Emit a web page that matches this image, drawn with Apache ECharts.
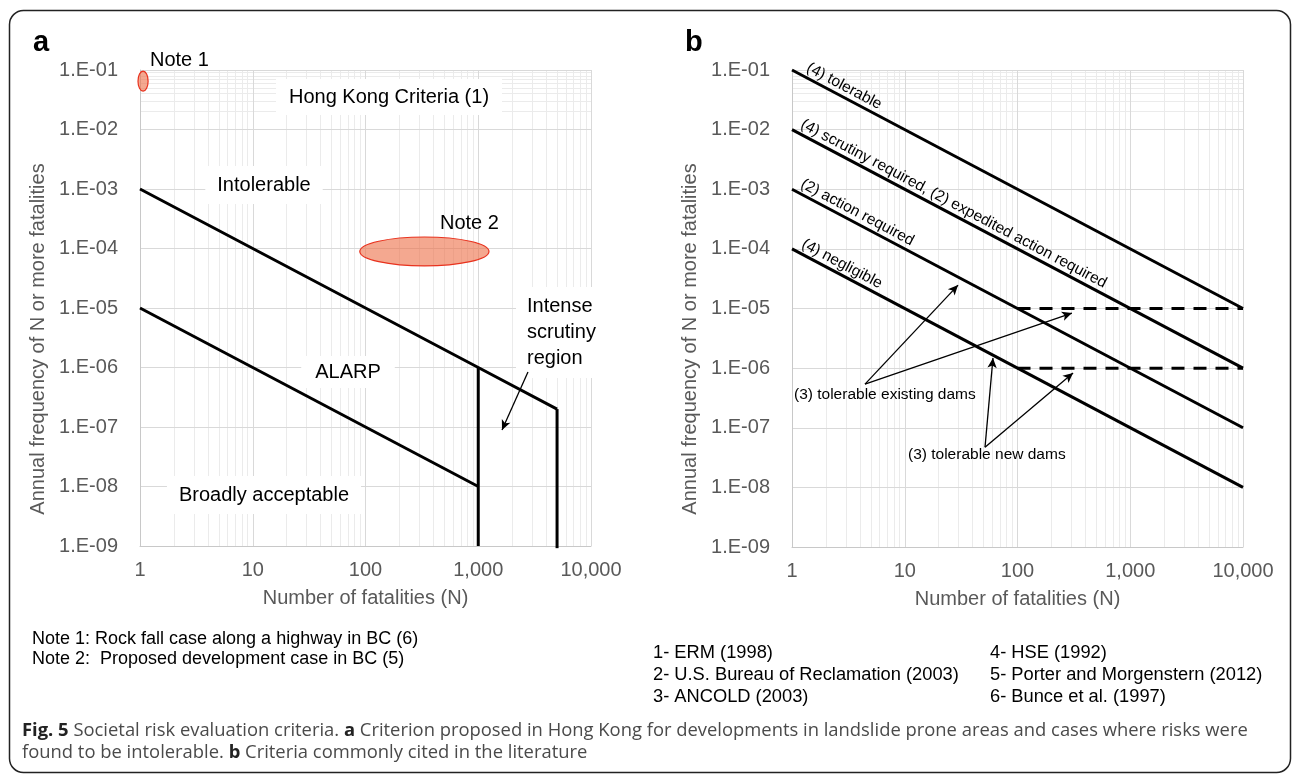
<!DOCTYPE html>
<html>
<head>
<meta charset="utf-8">
<script src="https://cdn.jsdelivr.net/npm/echarts@6/dist/echarts.min.js"></script>
<style>
  html, body { margin: 0; padding: 0; background: #fff; }
  #main { width: 1292px; height: 776px; }
</style>
</head>
<body>
<div id="main"></div>
<script>
// panel a - Hong Kong criteria
const aUpperN = [1, 1000, 5000];
const aUpperF = [1e-3, 1e-6, 2e-7];
const aLowerN = [1, 1000];
const aLowerF = [1e-5, 1e-8];
const aCut1000N = [1000, 1000];
const aCut1000F = [1e-6, 1e-9];
const aCut5000N = [5000, 5000];
const aCut5000F = [2e-7, 9.2e-10];
const note1N = [0.96, 1.18];
const note1F = [0.044, 0.096];
const note2N = [89, 1245];
const note2F = [5.1e-5, 1.56e-4];
const aArrow = [[2760, 8.4e-7], [1625, 8.9e-8]];

// panel b - criteria from the literature
const bN = [1, 10000];
const bTolerableF = [1e-1, 1e-5];
const bScrutinyF = [1e-2, 1e-6];
const bActionF = [1e-3, 1e-7];
const bNegligibleF = [1e-4, 1e-8];
const bDamsN = [100, 10000];
const bExistingDamsF = [1e-5, 1e-5];
const bNewDamsF = [1e-6, 1e-6];
const bExistingFrom = [4.44, 5.4e-7];
const bExistingTo = [[29.7, 2.47e-5], [304, 8.4e-6]];
const bNewFrom = [51.5, 4.7e-8];
const bNewTo = [[60.6, 1.48e-6], [311, 8.3e-7]];

const xTickLabels = ['1', '10', '100', '1,000', '10,000'];
const yTickLabels = ['1.E-09', '1.E-08', '1.E-07', '1.E-06', '1.E-05', '1.E-04', '1.E-03', '1.E-02', '1.E-01'];

const FONT = "'Liberation Sans', Arial, sans-serif";
const CAPTION_FONT = "'Open Sans', sans-serif";
const GREY = '#595959';

const pair = (xs, ys) => xs.map((x, i) => [x, ys[i]]);

// minor grid positions (2..9 in each decade)
const minorX = [];
for (let k = 0; k < 4; k++) for (let m = 2; m <= 9; m++) minorX.push({ xAxis: m * Math.pow(10, k) });
const minorY = [];
for (let k = -9; k < -1; k++) for (let m = 2; m <= 9; m++) minorY.push({ yAxis: m * Math.pow(10, k) });

function xAxisOpt(gridIndex) {
  return {
    type: 'log', logBase: 10, gridIndex: gridIndex, min: 1, max: 10000, splitNumber: 4, z: 1,
    name: 'Number of fatalities (N)', nameLocation: 'middle', nameGap: 42,
    nameTextStyle: { fontSize: 20, color: GREY, fontFamily: FONT },
    axisLine: { show: true, lineStyle: { color: '#c8c8c8', width: 1 } },
    axisTick: { show: false },
    axisLabel: {
      fontSize: 20, color: GREY, fontFamily: FONT, margin: 14,
      formatter: v => xTickLabels[Math.round(Math.log10(v))]
    },
    splitLine: { show: true, lineStyle: { color: '#d9d9d9', width: 1 } }
  };
}
function yAxisOpt(gridIndex) {
  return {
    type: 'log', logBase: 10, gridIndex: gridIndex, min: 1e-9, max: 1e-1, splitNumber: 8, z: 1,
    axisLine: { show: true, lineStyle: { color: '#c8c8c8', width: 1 } },
    axisTick: { show: false },
    axisLabel: {
      fontSize: 20, color: GREY, fontFamily: FONT, margin: 22,
      formatter: v => yTickLabels[Math.round(Math.log10(v)) + 9]
    },
    splitLine: { show: true, lineStyle: { color: '#d9d9d9', width: 1 } }
  };
}

function minorGrid(idx) {
  return {
    type: 'line', xAxisIndex: idx, yAxisIndex: idx, z: 0, silent: true,
    data: [[1, 1e-9]], symbol: 'none', lineStyle: { opacity: 0 },
    markLine: {
      silent: true, symbol: ['none', 'none'], animation: false, z: 0,
      label: { show: false },
      lineStyle: { color: '#ebebeb', width: 1, type: 'solid' },
      data: minorX.concat(minorY)
    }
  };
}

function solid(idx, xs, ys) {
  return {
    type: 'line', xAxisIndex: idx, yAxisIndex: idx, z: 3, silent: true, clip: false,
    data: pair(xs, ys), symbol: 'none',
    lineStyle: { color: '#000', width: 3 }
  };
}
function dashed(idx, xs, ys) {
  return {
    type: 'line', xAxisIndex: idx, yAxisIndex: idx, z: 3, silent: true, clip: false,
    data: pair(xs, ys), symbol: 'none',
    lineStyle: { color: '#000', width: 3, type: [13, 9] }
  };
}
function arrows(idx, segs) {
  return {
    type: 'line', xAxisIndex: idx, yAxisIndex: idx, z: 4, silent: true,
    data: [], symbol: 'none',
    markLine: {
      silent: true, animation: false, z: 4,
      symbol: ['none', 'arrow'], symbolSize: [7, 10],
      label: { show: false },
      lineStyle: { color: '#000', width: 1.3, type: 'solid' },
      data: segs.map(s => [{ coord: s[0] }, { coord: s[1] }])
    }
  };
}

const chart = echarts.init(document.getElementById('main'));

chart.setOption({
  animation: false,
  backgroundColor: '#fff',
  grid: [
    { left: 140, top: 70, width: 451, height: 476, outerBoundsMode: 'none' },
    { left: 792, top: 70, width: 451, height: 477, outerBoundsMode: 'none' }
  ],
  xAxis: [xAxisOpt(0), xAxisOpt(1)],
  yAxis: [yAxisOpt(0), yAxisOpt(1)],
  series: [
    minorGrid(0),
    minorGrid(1),
    solid(0, aUpperN, aUpperF),
    solid(0, aLowerN, aLowerF),
    solid(0, aCut1000N, aCut1000F),
    solid(0, aCut5000N, aCut5000F),
    {
      type: 'custom', xAxisIndex: 0, yAxisIndex: 0, z: 3, silent: true, clip: false,
      encode: { x: [0, 1], y: [2, 3] },
      data: [
        [note1N[0], note1N[1], note1F[0], note1F[1]],
        [note2N[0], note2N[1], note2F[0], note2F[1]]
      ],
      renderItem: (params, api) => {
        const p1 = api.coord([api.value(0), api.value(2)]);
        const p2 = api.coord([api.value(1), api.value(3)]);
        return {
          type: 'ellipse',
          shape: {
            cx: (p1[0] + p2[0]) / 2, cy: (p1[1] + p2[1]) / 2,
            rx: Math.abs(p2[0] - p1[0]) / 2, ry: Math.abs(p2[1] - p1[1]) / 2
          },
          style: { fill: 'rgba(236,110,70,0.6)', stroke: '#e8321e', lineWidth: 1.2 }
        };
      }
    },
    arrows(0, [aArrow]),
    solid(1, bN, bTolerableF),
    solid(1, bN, bScrutinyF),
    solid(1, bN, bActionF),
    solid(1, bN, bNegligibleF),
    dashed(1, bDamsN, bExistingDamsF),
    dashed(1, bDamsN, bNewDamsF),
    arrows(1, [[bExistingFrom, bExistingTo[0]], [bExistingFrom, bExistingTo[1]],
               [bNewFrom, bNewTo[0]], [bNewFrom, bNewTo[1]]])
  ]
});

// ---- annotations
function txt(text, x, y, opt) {
  opt = opt || {};
  return {
    type: 'text', x: x, y: y, z: opt.z || 2, silent: true, rotation: opt.rotation || 0,
    style: Object.assign({
      text: text, x: 0, y: 0,
      fontSize: 20, fontFamily: FONT, fill: '#000',
      align: 'center', verticalAlign: 'middle'
    }, opt.style || {})
  };
}
function boxed(text, x, y, pad) {
  return txt(text, x, y, { style: { backgroundColor: '#fff', padding: pad } });
}
function note(text, x, y, size) {
  return txt(text, x, y, { style: { fontSize: size, align: 'left' } });
}
function caption(text, y) {
  return txt(text, 22, y, {
    style: {
      fontSize: 18.4, fontFamily: CAPTION_FONT, fill: '#4a4a4a', align: 'left',
      rich: { b: { fontWeight: 'bold', fill: '#222', fontSize: 18.4, fontFamily: CAPTION_FONT } }
    }
  });
}

// labels running along the panel b lines
const lineLabels = [
  ['(4) tolerable', bTolerableF, 1.25],
  ['(4) scrutiny required, (2) expedited action required', bScrutinyF, 1.11],
  ['(2) action required', bActionF, 1.11],
  ['(4) negligible', bNegligibleF, 1.13]
];
const graphics = [];
lineLabels.forEach(([label, f, n0]) => {
  const p0 = chart.convertToPixel({ gridIndex: 1 }, [bN[0], f[0]]);
  const p1 = chart.convertToPixel({ gridIndex: 1 }, [bN[1], f[1]]);
  const dx = p1[0] - p0[0], dy = p1[1] - p0[1];
  const len = Math.hypot(dx, dy);
  const p = chart.convertToPixel({ gridIndex: 1 }, [n0, f[0] / n0]);
  const off = 2;
  graphics.push(txt(label, p[0] + off * dy / len, p[1] - off * dx / len, {
    rotation: Math.atan2(-dy, dx),
    style: { fontSize: 15.5, align: 'left', verticalAlign: 'bottom' }
  }));
});

graphics.push(
  txt('a', 33, 43, { style: { fontSize: 29, fontWeight: 'bold', align: 'left' } }),
  txt('b', 685, 43, { style: { fontSize: 29, fontWeight: 'bold', align: 'left' } }),
  txt('Annual frequency of N or more fatalities', 38, 339,
      { rotation: Math.PI / 2, style: { fill: GREY } }),
  txt('Annual frequency of N or more fatalities', 690, 339,
      { rotation: Math.PI / 2, style: { fill: GREY } }),
  txt('Note 1', 150, 60, { style: { align: 'left' } }),
  txt('Note 2', 440, 223, { style: { align: 'left' } }),
  boxed('Hong Kong Criteria (1)', 389, 97, [8, 13]),
  boxed('Intolerable', 264, 185, [9, 12]),
  boxed('ALARP', 348, 372, [6, 14]),
  boxed('Broadly acceptable', 264, 495, [9, 12]),
  txt('Intense\nscrutiny\nregion', 516, 287, {
    style: { align: 'left', verticalAlign: 'top', lineHeight: 26,
             backgroundColor: '#fff', padding: [6, 11, 7, 11] }
  }),
  note('(3) tolerable existing dams', 794, 395, 15.5),
  note('(3) tolerable new dams', 908, 455, 15.5),
  note('Note 1: Rock fall case along a highway in BC (6)', 32, 639, 18),
  note('Note 2:  Proposed development case in BC (5)', 32, 659, 18),
  note('1- ERM (1998)', 653, 653, 18.3),
  note('2- U.S. Bureau of Reclamation (2003)', 653, 675, 18.3),
  note('3- ANCOLD (2003)', 653, 697, 18.3),
  note('4- HSE (1992)', 990, 653, 18.3),
  note('5- Porter and Morgenstern (2012)', 990, 675, 18.3),
  note('6- Bunce et al. (1997)', 990, 697, 18.3),
  caption('{b|Fig. 5} Societal risk evaluation criteria. {b|a} Criterion proposed in Hong Kong for developments in landslide prone areas and cases where risks were', 731),
  caption('found to be intolerable. {b|b} Criteria commonly cited in the literature', 753),
  {
    type: 'rect', z: 10, silent: true,
    shape: { x: 9.5, y: 10.5, width: 1281, height: 762, r: 14 },
    style: { fill: 'none', stroke: '#222', lineWidth: 1.5 }
  }
);

chart.setOption({ graphic: { elements: graphics } });
</script>
</body>
</html>
